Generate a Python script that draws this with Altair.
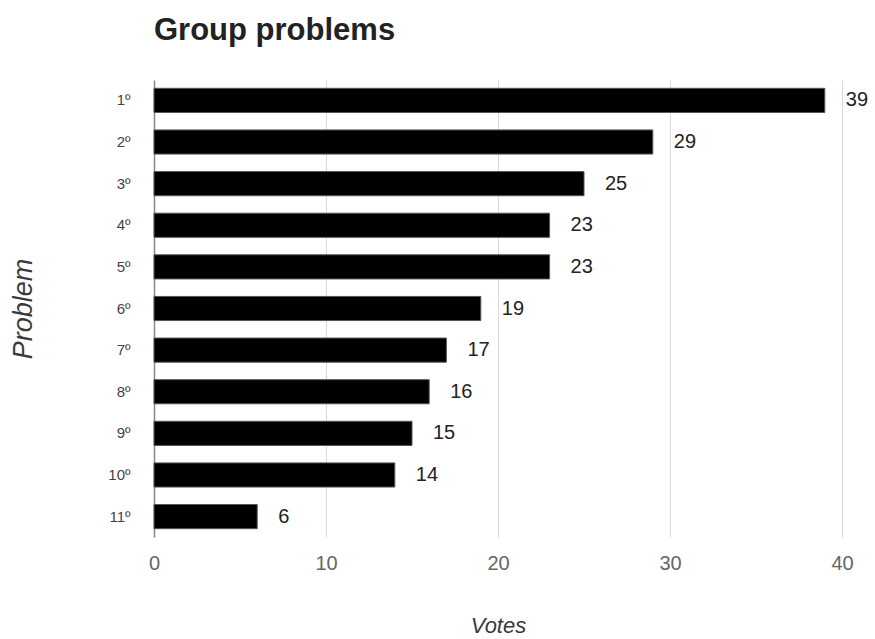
import altair as alt
import pandas as pd

problems = ["1º", "2º", "3º", "4º", "5º", "6º", "7º", "8º", "9º", "10º", "11º"]
votes = [39, 29, 25, 23, 23, 19, 17, 16, 15, 14, 6]

df = pd.DataFrame({"Problem": problems, "Votes": votes})

font = "Liberation Sans"

y_enc = alt.Y(
    "Problem:N",
    sort=problems,
    title="Problem",
    scale=alt.Scale(paddingInner=0.42, paddingOuter=0.2),
    axis=alt.Axis(
        labelFont=font, labelFontSize=15, labelColor="#444444",
        labelPadding=24, ticks=False, grid=False,
        domainColor="#888888", domainWidth=1.5,
        titleFont=font, titleFontSize=27, titleFontStyle="italic",
        titleFontWeight="normal", titleColor="#3a3a3a", titlePadding=70,
    ),
)

x_enc = alt.X(
    "Votes:Q",
    title="Votes",
    scale=alt.Scale(domain=[0, 40], nice=False),
    axis=alt.Axis(
        values=[0, 10, 20, 30, 40], grid=True, gridColor="#d9d9d9",
        domain=False, ticks=False, labelFlush=False, labelFont=font,
        labelFontSize=20, labelColor="#666666", labelPadding=16,
        titleFont=font, titleFontSize=22, titleFontStyle="italic",
        titleFontWeight="normal", titleColor="#3a3a3a", titlePadding=42,
    ),
)

bars = alt.Chart(df).mark_bar(color="black", stroke="#555555", strokeWidth=1).encode(
    x=x_enc, y=y_enc
)

labels = alt.Chart(df).mark_text(
    align="left", baseline="middle", dx=21, font=font, fontSize=20, color="#222222"
).encode(
    x=alt.X("Votes:Q"), y=alt.Y("Problem:N", sort=problems), text="Votes:Q"
)

chart = (
    alt.layer(bars, labels)
    .properties(
        width=688,
        height=457,
        background="white",
        title=alt.TitleParams(
            "Group problems", anchor="start", frame="group", font=font,
            fontSize=31, fontWeight="bold", color="#222222", offset=33,
        ),
        autosize=alt.AutoSizeParams(type="none"),
        padding={"left": 154, "top": 80, "right": 33, "bottom": 102},
    )
    .configure_view(stroke="transparent", strokeWidth=0)
)

chart.save("out.html", embed_options={"renderer": "svg", "actions": False})
